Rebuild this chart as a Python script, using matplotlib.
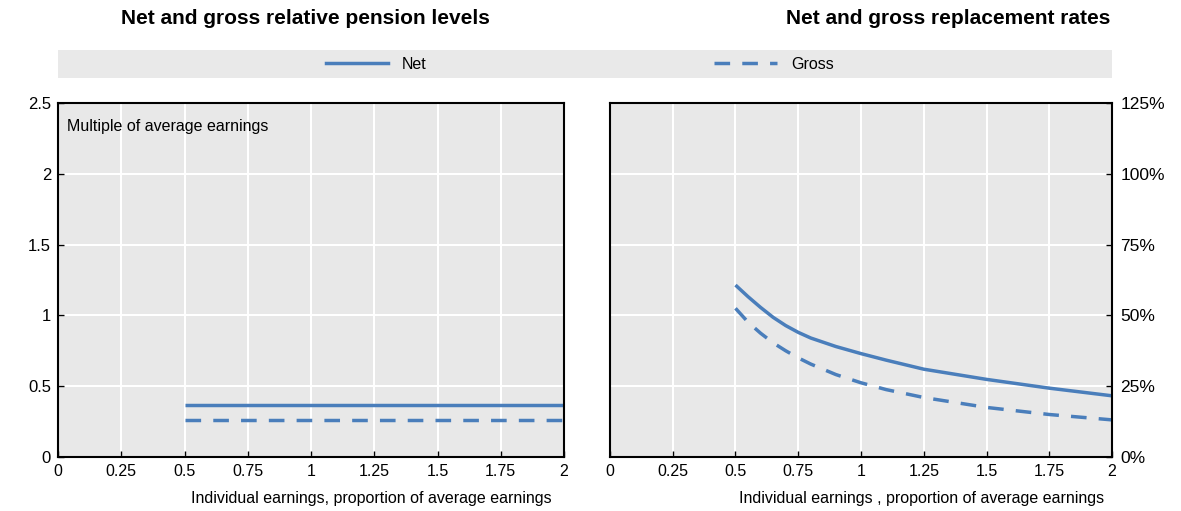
import matplotlib.pyplot as plt
from matplotlib.lines import Line2D
from matplotlib.ticker import FuncFormatter

plt.rcParams["font.family"] = ["Liberation Sans Narrow", "Liberation Sans", "DejaVu Sans"]

# data
earn_lvl = [0.5, 2.0]
net_level = [0.367, 0.367]
gross_level = [0.262, 0.262]

earn_rr = [0.5, 0.55, 0.6, 0.65, 0.7, 0.75, 0.8, 0.9, 1.0, 1.1, 1.25, 1.5, 1.75, 2.0]
net_rr = [60.7, 56.6, 52.8, 49.3, 46.4, 44.0, 42.0, 39.0, 36.5, 34.2, 31.0, 27.4, 24.3, 21.6]
gross_rr = [52.5, 47.6, 43.7, 40.3, 37.5, 35.0, 32.8, 29.1, 26.2, 23.8, 21.0, 17.5, 15.0, 13.1]

xticks = [0, 0.25, 0.5, 0.75, 1, 1.25, 1.5, 1.75, 2]
xticklabels = ["0", "0.25", "0.5", "0.75", "1", "1.25", "1.5", "1.75", "2"]
lvl_ticks = [0, 0.5, 1, 1.5, 2, 2.5]
rr_ticks = [0, 25, 50, 75, 100, 125]

blue = "#4a7ebb"
bg = "#e8e8e8"
fs = 11.5
lw = 2.5

fig = plt.figure(figsize=(11.81, 5.11), dpi=100)
ax1 = fig.add_axes([0.0491, 0.1057, 0.4285, 0.6928])
ax2 = fig.add_axes([0.5165, 0.1057, 0.4251, 0.6928])

for ax in (ax1, ax2):
    ax.set_facecolor(bg)
    ax.set_xlim(0, 2)
    ax.set_xticks(xticks)
    ax.set_xticklabels(xticklabels, fontsize=fs)
    ax.grid(True, color="white", linewidth=1.5)
    ax.set_axisbelow(True)
    for s in ax.spines.values():
        s.set_color("black")
        s.set_linewidth(1.5)
    ax.tick_params(direction="in", length=4, width=1, pad=5, labelsize=fs)

# left: relative pension levels
ax1.plot(earn_lvl, net_level, color=blue, lw=lw, solid_capstyle="butt")
ax1.plot(earn_lvl, gross_level, color=blue, lw=lw, dashes=(4.5, 3.5))
ax1.set_ylim(0, 2.5)
ax1.set_yticks(lvl_ticks)
ax1.set_yticklabels(["0", "0.5", "1", "1.5", "2", "2.5"])
ax1.tick_params(axis="y", pad=5, labelsize=12)
ax1.text(0.018, 0.955, "Multiple of average earnings", transform=ax1.transAxes,
         fontsize=fs, va="top", ha="left")
ax1.text(0.975, -0.095, "Individual earnings, proportion of average earnings",
         transform=ax1.transAxes, fontsize=fs, ha="right", va="top")

# right: replacement rates
ax2.plot(earn_rr, net_rr, color=blue, lw=lw, solid_capstyle="butt")
ax2.plot(earn_rr, gross_rr, color=blue, lw=lw, dashes=(4.5, 3.5))
ax2.set_ylim(0, 125)
ax2.set_yticks(rr_ticks)
ax2.yaxis.set_major_formatter(FuncFormatter(lambda v, p: f"{v:.0f}%"))
ax2.yaxis.tick_right()
ax2.tick_params(axis="y", pad=6, left=False, right=True, labelsize=12.5)
ax2.text(0.985, -0.095, "Individual earnings , proportion of average earnings",
         transform=ax2.transAxes, fontsize=fs, ha="right", va="top")

# titles
fig.text(0.259, 0.963, "Net and gross relative pension levels", fontsize=15,
         fontweight="bold", family="Liberation Sans", ha="center", va="center")
fig.text(0.94, 0.963, "Net and gross replacement rates", fontsize=15,
         fontweight="bold", family="Liberation Sans", ha="right", va="center")

# legend band
lax = fig.add_axes([0.0491, 0.847, 0.8925, 0.055])
lax.set_facecolor("#e9e9e9")
lax.set_xticks([])
lax.set_yticks([])
for s in lax.spines.values():
    s.set_visible(False)
handles = [Line2D([], [], color=blue, lw=lw),
           Line2D([], [], color=blue, lw=lw, dashes=(4.5, 3.5))]
lax.legend(handles, ["Net", "Gross"], ncol=2, loc="center", frameon=False,
           fontsize=fs, handlelength=3.9, handletextpad=0.9, columnspacing=18,
           bbox_to_anchor=(0.495, 0.5))

fig.savefig("out.png", dpi=100)
